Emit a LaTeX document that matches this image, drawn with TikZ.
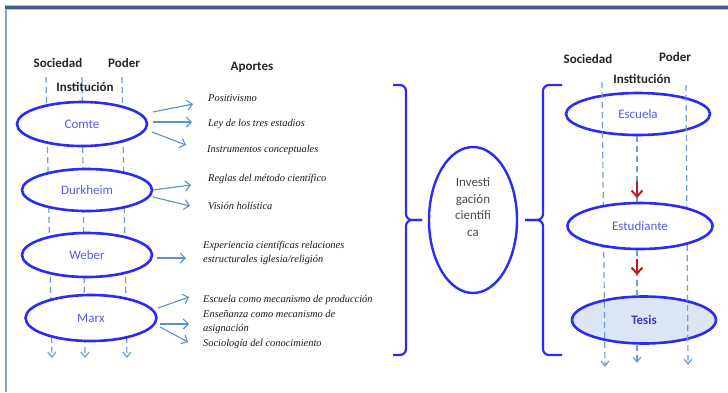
\documentclass[tikz,border=0pt]{standalone}
\usepackage{fontspec}
\setmainfont{Carlito}
\newfontfamily\apfont{Liberation Serif}
\usetikzlibrary{shapes.geometric,arrows.meta}
\definecolor{elb}{HTML}{2B2BF5}
\definecolor{txb}{HTML}{5A5AF0}
\definecolor{tsb}{HTML}{3A3AD0}
\definecolor{dsh}{HTML}{6E9ED4}
\definecolor{arb}{HTML}{5E90CC}
\definecolor{frtop}{HTML}{3F5F8A}
\definecolor{frl}{HTML}{86A6CC}
\definecolor{tesf}{HTML}{DCE5F2}
\definecolor{redar}{HTML}{C4161C}
\begin{document}
\begin{tikzpicture}[x=1pt,y=-1pt,
 ell/.style={ellipse,draw=elb,line width=2.6pt,fill=white,inner sep=0pt,text=txb,font=\fontsize{13}{15}\selectfont},
 lbl/.style={font=\bfseries\fontsize{13}{15}\selectfont,text=black!85,inner sep=0pt},
 apo/.style={anchor=west,font=\apfont\itshape\fontsize{10.4}{14.5}\selectfont,text=black!90,inner sep=0pt,align=left},
 dsl/.style={draw=dsh,line width=1.2pt,dash pattern=on 6pt off 4pt},
 dsa/.style={dsl,-{Straight Barb[length=5pt,width=8pt]}},
 apa/.style={draw=arb,line width=1.1pt,-{Straight Barb[length=5pt,width=10pt]}},
 brk/.style={draw=elb,line width=2.2pt,rounded corners=6pt},
 redarrow/.style={draw=redar,line width=2pt,-{Straight Barb[length=6pt,width=11pt]}}
]
\useasboundingbox (0,0) rectangle (728,392);
\fill[white] (0,0) rectangle (728,392);
% frame
\draw[frl!70,line width=5pt] (5,7.5) -- (728,7.5);
\draw[frtop,line width=2.5pt] (5,7.5) -- (728,7.5);
\draw[frl,line width=1.5pt] (6,9) -- (6,392);

% left dashed lines
\coordinate (l1t) at (46,77);  \coordinate (l1b) at (52,358);
\coordinate (l2t) at (82,77);  \coordinate (l2b) at (85,358);
\coordinate (l3t) at (122,77); \coordinate (l3b) at (127,358);
\draw[dsa] (l1t) -- (l1b);
\draw[dsa] (l2t) -- (l2b);
\draw[dsa] (l3t) -- (l3b);

% left ellipses
\node[ell,minimum width=130pt,minimum height=44pt] (comte) at (82,124) {Comte};
\node[ell,minimum width=130pt,minimum height=42pt] (durk) at (87,190) {Durkheim};
\node[ell,minimum width=130pt,minimum height=44pt] (weber) at (87,255) {Weber};
\node[ell,minimum width=131pt,minimum height=46pt] (marx) at (91,318) {Marx};

% left labels
\node[lbl] (socL) at (58,63) {Sociedad};
\node[lbl] (podL) at (124,63) {Poder};
\node[lbl] (instL) at (85,87) {Institución};
\node[lbl] (aport) at (252,67) {Aportes};

% aportes texts
\node[apo] (a1) at (208,98) {Positivismo};
\node[apo] (a2) at (208,124) {Ley de los tres estadios};
\node[apo] (a3) at (207,150) {Instrumentos conceptuales};
\node[apo] (a4) at (208,179) {Reglas del método científico};
\node[apo] (a5) at (208,206) {Visión holística};
\node[apo] (a6) at (203,253) {Experiencia científicas relaciones\\estructurales iglesia/religión};
\node[apo] (a7) at (203,322) {Escuela como mecanismo de producción\\Enseñanza como mecanismo de\\asignación\\Sociología del conocimiento};

% aportes arrows
\coordinate (c1s) at (153,112); \coordinate (c1e) at (193,104);
\coordinate (c2s) at (153,122); \coordinate (c2e) at (192,122);
\coordinate (c3s) at (152,132); \coordinate (c3e) at (186,145);
\coordinate (d1s) at (153,190); \coordinate (d1e) at (191,185);
\coordinate (d2s) at (153,197); \coordinate (d2e) at (190,206);
\coordinate (w1s) at (157,258); \coordinate (w1e) at (186,258);
\coordinate (m1s) at (158,308); \coordinate (m1e) at (189,297);
\coordinate (m2s) at (160,324); \coordinate (m2e) at (189,324);
\coordinate (m3s) at (160,327); \coordinate (m3e) at (188,342);
\foreach \s/\e in {c1s/c1e,c2s/c2e,c3s/c3e,d1s/d1e,d2s/d2e,w1s/w1e,m1s/m1e,m2s/m2e,m3s/m3e}
  \draw[apa] (\s) -- (\e);

% brackets
\draw[brk] (393,85) -- (406,85) -- (406,220) -- (422,220);
\draw[brk] (393,355) -- (406,355) -- (406,220) -- (422,220);
\draw[brk] (562,85) -- (543,85) -- (543,220) -- (525,220);
\draw[brk] (562,355) -- (543,355) -- (543,220) -- (525,220);

% middle ellipse
\node[ellipse,draw=elb,line width=2.4pt,minimum width=88pt,minimum height=146pt,inner sep=0pt] (inv) at (473,220) {};
\node[font=\fontsize{13}{16.5}\selectfont,text=black!70,align=center,inner sep=0pt] (invt) at (473,207) {Investi\\gación\\científi\\ca};

% right side
\node[ell,minimum width=144pt,minimum height=42pt] (esc) at (638,114) {Escuela};
\node[ell,fill=tesf,minimum width=144pt,minimum height=47pt,text=tsb,font=\bfseries\fontsize{13}{15}\selectfont] (tes) at (644,320) {Tesis};
\coordinate (r1t) at (602,82);  \coordinate (r1b) at (605,367);
\coordinate (r3t) at (686,85);  \coordinate (r3b) at (688,365);
\draw[dsa] (r1t) -- (r1b);
\draw[dsa] (r3t) -- (r3b);
\node[ell,minimum width=145pt,minimum height=46pt] (est) at (640,226) {Estudiante};
\coordinate (mb) at (637,363);
\draw[dsl] (esc.south -| mb) -- (est.north -| mb);
\draw[dsl] (est.south -| mb) -- (tes.north -| mb);
\draw[dsa] (tes.south -| mb) -- (mb);
\coordinate (ra1s) at (637,181); \coordinate (ra1e) at (637,198);
\coordinate (ra2s) at (637,259); \coordinate (ra2e) at (637,275);
\draw[redarrow] (ra1s) -- (ra1e);
\draw[redarrow] (ra2s) -- (ra2e);

\node[lbl] (socR) at (588,59) {Sociedad};
\node[lbl] (podR) at (675,57) {Poder};
\node[lbl] (instR) at (642,79) {Institución};
\end{tikzpicture}
\end{document}
